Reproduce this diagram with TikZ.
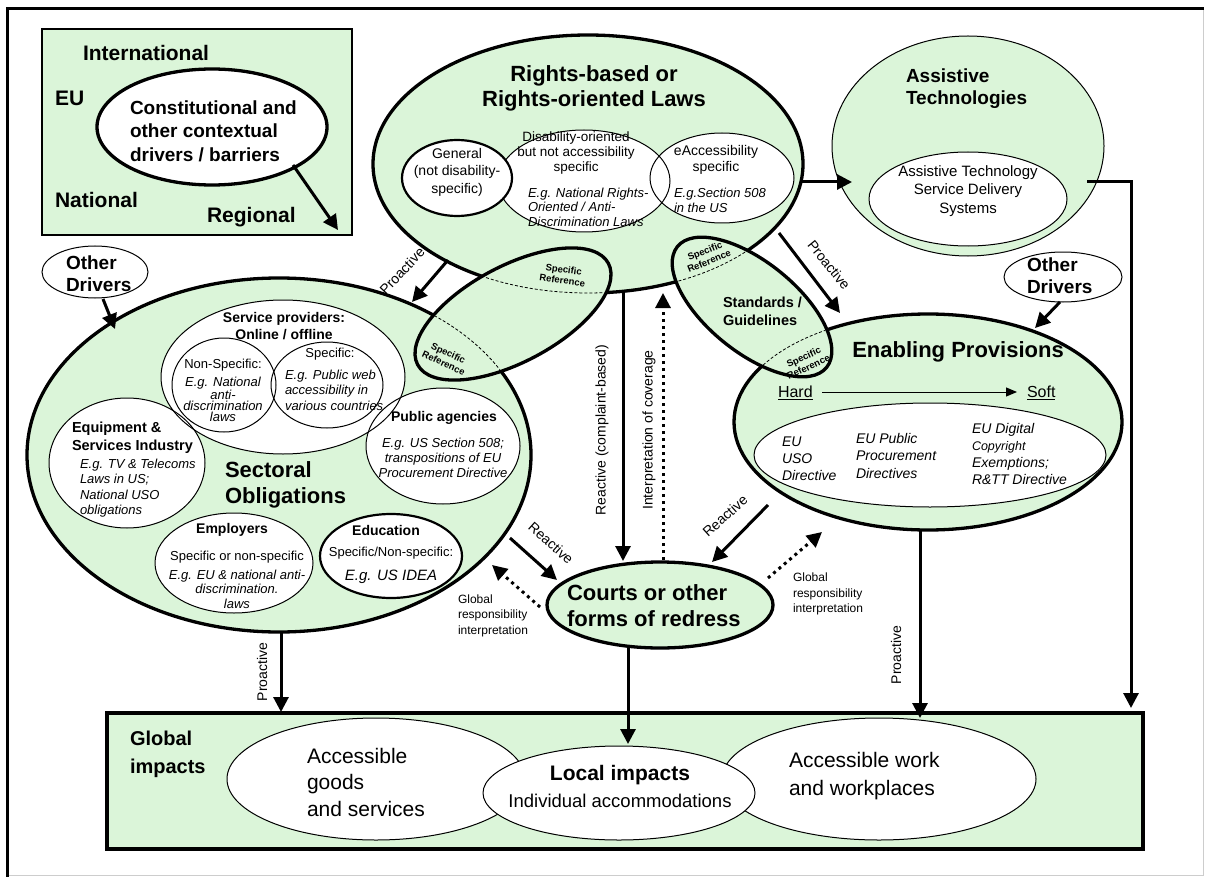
\documentclass[tikz,border=0pt]{standalone}
\usepackage{fontspec}
\setmainfont{Liberation Sans}
\usetikzlibrary{shapes.geometric,arrows.meta}
\definecolor{mint}{RGB}{219,245,217}
\definecolor{framegray}{RGB}{205,205,205}
\newcommand\setfs[2]{\fontsize{#1pt}{#2pt}\selectfont}
\begin{document}
\begin{tikzpicture}[x=1pt,y=-1pt,
  ell/.style={ellipse,inner sep=0pt,outer sep=0pt},
  bthin/.style={draw,line width=1pt},
  bmed/.style={draw,line width=2.2pt},
  bthick/.style={draw,line width=3.3pt},
  arr/.style={line width=3pt,-{Triangle[length=15pt,width=15pt]}},
  dotarr/.style={line width=3pt,dash pattern=on 3pt off 4pt,-{Triangle[length=15pt,width=15pt]}},
  tx/.style={inner sep=0pt,outer sep=0pt,align=center},
  txl/.style={inner sep=0pt,outer sep=0pt,align=left,anchor=west},
  dsh/.style={line width=0.8pt,dash pattern=on 3pt off 2pt},
  lbl/.style={inner sep=0pt,outer sep=0pt,font=\setfs{14}{16}},
  srlbl/.style={inner sep=0pt,outer sep=0pt,align=center,font=\setfs{9.5}{11}\bfseries},
]
\useasboundingbox (0,0) rectangle (1206,877);
\fill[white] (0,0) rectangle (1206,877);
% frame
\draw[framegray,line width=1pt] (1203,9) -- (1203,875) -- (7,875);
\draw[line width=3pt] (7,877) -- (7,9) -- (1204,9);

% ---------------- context box
\node[draw,line width=2.5pt,fill=mint,minimum width=310pt,minimum height=206pt,inner sep=0pt] (ctx) at (197,132) {};
\node[txl,font=\setfs{21}{24}\bfseries] (intl) at (83,53) {International};
\node[txl,font=\setfs{21}{24}\bfseries] (eu) at (55,98) {EU};
\node[txl,font=\setfs{21}{24}\bfseries] (nat) at (55,200) {National};
\node[txl,font=\setfs{21}{24}\bfseries] (reg) at (207,217) {Regional};
\node[ell,bthick,fill=white,minimum width=230pt,minimum height=116pt] (const) at (212,127) {};
\node[txl,font=\setfs{19}{23.5}\bfseries] (constt) at (130,131) {Constitutional and\\other contextual\\drivers / barriers};

% ---------------- Rights ellipse
\node[ell,bthick,fill=mint,minimum width=430pt,minimum height=258pt] (rights) at (588,164) {};
\node[tx,font=\setfs{22}{25}\bfseries] (rightst) at (594,88) {Rights-based or\\Rights-oriented Laws};
\node[ell,fill=white,minimum width=172pt,minimum height=102pt] (disab) at (584,181) {};
\node[ell,bthin,fill=white,minimum width=144pt,minimum height=90pt] (eacc) at (722,178) {};
\draw[line width=1pt] (584,181) ellipse [x radius=86,y radius=51];
\node[ell,bmed,fill=white,minimum width=110pt,minimum height=76pt] (gen) at (457,178) {};
\node[tx,font=\setfs{14}{17.5}] (gent) at (457,172) {General\\(not disability-\\specific)};
\node[tx,font=\setfs{13.5}{15}] (disabt) at (576,153) {Disability-oriented\\but not accessibility\\specific};
\node[txl,font=\setfs{13}{14.5}\itshape] (disabe) at (528,207) {E.g. National Rights-\\Oriented / Anti-\\Discrimination Laws};
\node[tx,font=\setfs{14}{16}] (eacct) at (716,160) {eAccessibility\\specific};
\node[txl,font=\setfs{13}{15}\itshape] (eacce) at (674,200) {E.g.Section 508\\in the US};

% ---------------- Assistive technologies
\node[ell,bthin,fill=mint,minimum width=272pt,minimum height=220pt] (at) at (968,146) {};
\node[txl,font=\setfs{19}{22}\bfseries] (att) at (906,89) {Assistive\\Technologies};
\node[ell,bthin,fill=white,minimum width=198pt,minimum height=94pt] (atsd) at (968,199) {};
\node[tx,font=\setfs{15}{18.5}] (atsdt) at (968,191) {Assistive Technology\\Service Delivery\\Systems};

% ---------------- Sectoral obligations
\node[ell,bthick,fill=mint,minimum width=504pt,minimum height=354pt] (sect) at (279,455) {};
\node[ell,fill=white,minimum width=244pt,minimum height=154pt] (sp) at (283,377) {};
\node[ell,fill=white,minimum width=156pt,minimum height=130pt] (equip) at (127,463) {};
\node[ell,fill=white,minimum width=154pt,minimum height=116pt] (pub) at (443,446) {};
\draw[line width=1pt] (283,377) ellipse [x radius=122,y radius=77];
\draw[line width=1pt] (127,463) ellipse [x radius=78,y radius=65];
\draw[line width=1pt] (443,446) ellipse [x radius=77,y radius=58];
\node[ell,fill=white,minimum width=104pt,minimum height=94pt] (nons) at (224,385) {};
\node[ell,bthin,fill=white,minimum width=112pt,minimum height=86pt] (spec) at (327,385) {};
\draw[line width=1pt] (224,385) ellipse [x radius=52,y radius=47];
\node[ell,bthin,fill=white,minimum width=158pt,minimum height=100pt] (empl) at (234,563) {};
\node[ell,bmed,fill=white,minimum width=142pt,minimum height=84pt] (educ) at (391,556) {};

\node[txl,font=\setfs{22}{26}\bfseries] (sectt) at (225,485) {Sectoral\\Obligations};
\node[tx,font=\setfs{14}{17}\bfseries] (spt) at (284,326.5) {Service providers:\\Online / offline};
\node[tx,font=\setfs{13}{15}] (nonst) at (223,365) {Non-Specific:};
\node[tx,font=\setfs{13}{10.8}\itshape] (nonse) at (223,399) {E.g. National\\anti-\\discrimination\\laws};
\node[tx,font=\setfs{13}{15}] (spect) at (330,354) {Specific:};
\node[txl,font=\setfs{13}{15.5}\itshape] (spece) at (285,390) {E.g. Public web\\accessibility in\\various countries};
\node[txl,font=\setfs{14.5}{18}\bfseries] (equipt) at (72,438) {Equipment \&\\Services Industry};
\node[txl,font=\setfs{13}{15.5}\itshape] (equipe) at (80,488) {E.g. TV \& Telecoms\\Laws in US;\\National USO\\obligations};
\node[tx,font=\setfs{14}{16}\bfseries] (pubt) at (444,418) {Public agencies};
\node[tx,font=\setfs{13}{15}\itshape] (pube) at (443,458) {E.g. US Section 508;\\transpositions of EU\\Procurement Directive};
\node[tx,font=\setfs{14}{16}\bfseries] (emplt) at (232,530) {Employers};
\node[tx,font=\setfs{13}{14.5}] (emple) at (237,580) {Specific or non-specific\\[4pt]\textit{E.g. EU \& national anti-}\\\textit{discrimination.}\\\textit{laws}};
\node[tx,font=\setfs{14}{16}\bfseries] (educt) at (386,530) {Education};
\node[tx,font=\setfs{13}{15}] (educs) at (391,553) {Specific/Non-specific:};
\node[tx,font=\setfs{15}{17}\itshape] (educe) at (391,577) {E.g. US IDEA};

% ---------------- Enabling provisions
\node[ell,bthick,fill=mint,minimum width=388pt,minimum height=216pt] (enab) at (928,422) {};
\node[tx,font=\setfs{22}{25}\bfseries] (enabt) at (958,352) {Enabling Provisions};
\node[txl,font=\setfs{16}{18}] (hard) at (778,393) {\underline{Hard}};
\node[txl,font=\setfs{16}{18}] (soft) at (1027,393) {\underline{Soft}};
\coordinate (hs1) at (822,392); \coordinate (hs2) at (1017,392);
\draw[line width=1pt,-{Triangle[length=11pt,width=9pt]}] (hs1) -- (hs2);
\node[ell,bthin,fill=white,minimum width=352pt,minimum height=104pt] (enin) at (930,455) {};
\node[txl,font=\setfs{14}{17}\itshape] (uso) at (782,459) {EU\\USO\\Directive};
\node[txl,font=\setfs{14}{17.5}\itshape] (ppd) at (856,455.5) {EU Public\\Procurement\\Directives};
\node[txl,font=\setfs{14}{17}\itshape] (dce) at (972,453.5) {EU Digital\\{\setfs{12.5}{17}Copyright}\\Exemptions;\\R\&TT Directive};

% ---------------- Specific reference ellipses
\node[ell,bthick,fill=mint,minimum width=216pt,minimum height=96pt,rotate=28] (sr1) at (513,314) {};
\begin{scope}
  \clip[rotate around={28:(513,314)}] (513,314) ellipse [x radius=106,y radius=46];
  \draw[dsh] (588,164) ellipse [x radius=215,y radius=129];
  \draw[dsh] (279,455) ellipse [x radius=252,y radius=177];
\end{scope}
\node[srlbl,rotate=-8] (sr1a) at (563,275) {Specific\\Reference};
\node[srlbl,rotate=-25] (sr1b) at (446,358) {Specific\\Reference};

\node[ell,bthick,fill=mint,minimum width=192pt,minimum height=90pt,rotate=-39] (sr2) at (752,307) {};
\begin{scope}
  \clip[rotate around={-39:(752,307)}] (752,307) ellipse [x radius=94,y radius=43];
  \draw[dsh] (588,164) ellipse [x radius=215,y radius=129];
  \draw[dsh] (928,422) ellipse [x radius=194,y radius=108];
\end{scope}
\node[srlbl,rotate=22] (sr2a) at (707,256) {Specific\\Reference};
\node[srlbl,rotate=25] (sr2b) at (806,362) {Specific\\Reference};
\node[txl,font=\setfs{14.5}{18}\bfseries] (stdt) at (723,311) {Standards /\\Guidelines};

% ---------------- Courts
\node[ell,bthick,fill=mint,minimum width=226pt,minimum height=86pt] (courts) at (660,605) {};
\node[txl,font=\setfs{22}{26}\bfseries] (courtst) at (567,606) {Courts or other\\forms of redress};

% ---------------- Other drivers
\node[ell,bthin,fill=white,minimum width=106pt,minimum height=52pt] (odl) at (95,272) {};
\node[txl,font=\setfs{19}{22}\bfseries] (odlt) at (66,274) {Other\\Drivers};
\node[ell,bthin,fill=white,minimum width=118pt,minimum height=50pt] (odr) at (1063,277) {};
\node[txl,font=\setfs{19}{22}\bfseries] (odrt) at (1027,276) {Other\\Drivers};

% ---------------- impacts box
\node[draw,line width=3.3pt,fill=mint,minimum width=1036pt,minimum height=136pt,inner sep=0pt] (impact) at (625,781) {};
\node[txl,font=\setfs{20}{28}\bfseries] (glob) at (130,754) {Global\\impacts};
\node[ell,bthin,fill=white,minimum width=298pt,minimum height=122pt] (goods) at (376,779) {};
\node[ell,bthin,fill=white,minimum width=314pt,minimum height=122pt] (work) at (879,779) {};
\node[ell,bthin,fill=white,minimum width=272pt,minimum height=94pt] (local) at (619,793) {};
\node[txl,font=\setfs{21}{26.5}] (goodst) at (307,782) {Accessible\\goods\\and services};
\node[txl,font=\setfs{21}{28}] (workt) at (789,776) {Accessible work\\and workplaces};
\node[tx,font=\setfs{18.5}{27}] (localt) at (620,786) {{\setfs{21}{27}\bfseries Local impacts}\\Individual accommodations};

% ---------------- connectors
\coordinate (c1) at (293,165); \coordinate (c2) at (338,230);
\draw[arr] (c1) -- (c2);
\coordinate (od1) at (103,299); \coordinate (od2) at (115,329);
\draw[arr] (od1) -- (od2);
\coordinate (od3) at (1060,302); \coordinate (od4) at (1035,328);
\draw[arr] (od3) -- (od4);

% rights -> sectoral proactive
\coordinate (p1) at (448,260); \coordinate (p2) at (412,302);
\draw[arr] (p1) -- (p2);
\node[lbl,rotate=47] (lp1) at (402,271) {Proactive};
% rights -> enabling proactive
\coordinate (p3) at (779,233); \coordinate (p4) at (840,313);
\draw[arr] (p3) -- (p4);
\node[lbl,rotate=-51] (lp2) at (829,265) {Proactive};
% rights -> courts reactive
\coordinate (r1) at (623,292); \coordinate (r2) at (623,561);
\draw[arr] (r1) -- (r2);
\node[lbl,rotate=90] (lr1) at (602,430) {Reactive (complaint-based)};
% courts -> rights interpretation
\coordinate (i1) at (663,560); \coordinate (i2) at (663,293);
\draw[dotarr] (i1) -- (i2);
\node[lbl,rotate=90] (li1) at (649,430) {Interpretation of coverage};
% sectoral -> courts
\coordinate (s1) at (510,538); \coordinate (s2) at (557,580);
\draw[arr] (s1) -- (s2);
\node[lbl,rotate=-42] (ls1) at (551,543) {Reactive};
\coordinate (g1) at (540,607); \coordinate (g2) at (492,565);
\draw[dotarr] (g1) -- (g2);
\node[txl,font=\setfs{12}{15.5}] (lg1) at (458,615.5) {Global\\responsibility\\interpretation};
% enabling -> courts
\coordinate (e1) at (768,505); \coordinate (e2) at (712,562);
\draw[arr] (e1) -- (e2);
\node[lbl,rotate=42] (le1) at (725,516) {Reactive};
\coordinate (g3) at (768,578); \coordinate (g4) at (822,532);
\draw[dotarr] (g3) -- (g4);
\node[txl,font=\setfs{12}{15.5}] (lg2) at (793,594) {Global\\responsibility\\interpretation};
% rights -> assistive
\coordinate (a1) at (802,182); \coordinate (a2) at (852,182);
\draw[arr] (a1) -- (a2);
% assistive -> impacts
\coordinate (a3) at (1087,182); \coordinate (a4) at (1131,708);
\draw[arr] (a3) -| (a4);
% sectoral -> impacts
\coordinate (b1) at (281,632); \coordinate (b2) at (281,712);
\draw[arr] (b1) -- (b2);
\node[lbl,rotate=90] (lb1) at (262,672) {Proactive};
% courts -> local
\coordinate (b3) at (628,648); \coordinate (b4) at (628,744);
\draw[arr] (b3) -- (b4);
% enabling -> work
\coordinate (b5) at (920,530); \coordinate (b6) at (920,718);
\draw[arr] (b5) -- (b6);
\node[lbl,rotate=90] (lb2) at (896,655) {Proactive};
\end{tikzpicture}
\end{document}
